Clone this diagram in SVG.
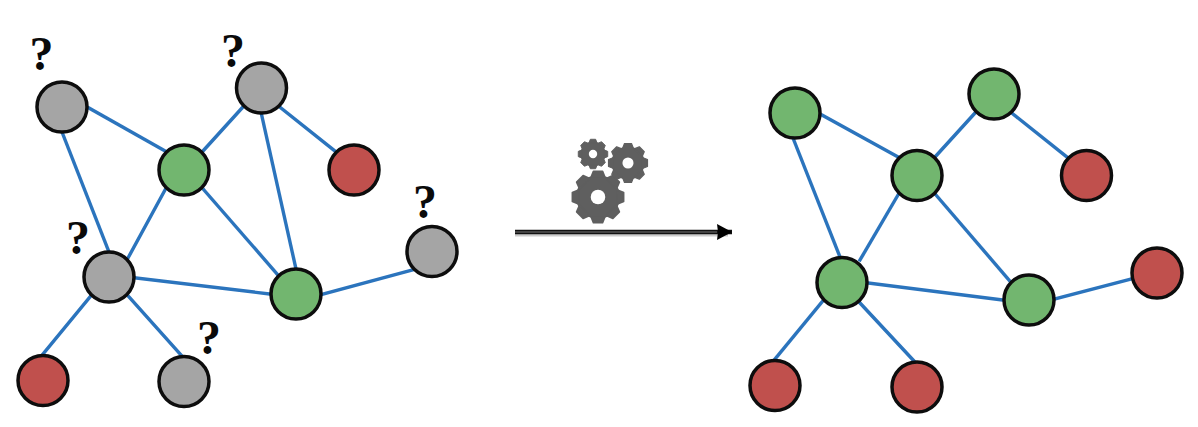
<svg xmlns="http://www.w3.org/2000/svg" width="1198" height="427" viewBox="0 0 1198 427">
<style>
.n{stroke:#0d0d0d;stroke-width:3.500}
.gy{fill:#a5a5a5}.gn{fill:#72b66f}.rd{fill:#c0504d}
#connectors line{stroke:#2b74bd;stroke-width:3.400;stroke-linecap:square}
.q{font-family:"Liberation Serif",serif;font-weight:bold;font-size:48px;fill:#0a0a0a;text-anchor:middle}
.g{fill:#5f5f5f;stroke:#5f5f5f;stroke-width:.06;stroke-linejoin:round}
</style>
<defs>
<marker id="ah" markerUnits="userSpaceOnUse" markerWidth="16" markerHeight="18" refX="15" refY="9" orient="auto"><path d="M0 1L15 9L0 17L1 9Z" fill="#000"/></marker>
<path id="t" class="g" d="M-.17-.95L.17-.95L.27-.7L-.27-.7Z"/>
<g id="gear">
<circle class="g" r="0.78"/>
<use href="#t"/>
<use href="#t" transform="rotate(45)"/>
<use href="#t" transform="rotate(90)"/>
<use href="#t" transform="rotate(135)"/>
<use href="#t" transform="rotate(180)"/>
<use href="#t" transform="rotate(225)"/>
<use href="#t" transform="rotate(270)"/>
<use href="#t" transform="rotate(315)"/>
<circle r="0.27" fill="#fff"/>
</g>
</defs>
<rect width="1198" height="427" fill="#fff"/>
<g id="connectors">
<line x1="89" y1="108" x2="165" y2="151"/>
<line x1="62" y1="132" x2="109" y2="252"/>
<line x1="242" y1="108" x2="203" y2="151"/>
<line x1="281" y1="108" x2="335" y2="151"/>
<line x1="261" y1="112" x2="296" y2="269"/>
<line x1="165" y1="190" x2="128" y2="258"/>
<line x1="204" y1="190" x2="278" y2="275"/>
<line x1="136" y1="278" x2="270" y2="294"/>
<line x1="320" y1="295" x2="412" y2="270"/>
<line x1="90" y1="297" x2="43" y2="354"/>
<line x1="129" y1="297" x2="182" y2="356"/>
<line x1="822" y1="115" x2="898" y2="157"/>
<line x1="793" y1="138" x2="840" y2="257"/>
<line x1="975" y1="113" x2="935" y2="157"/>
<line x1="1013" y1="114" x2="1067" y2="157"/>
<line x1="898" y1="195" x2="860" y2="260"/>
<line x1="936" y1="195" x2="1009" y2="280"/>
<line x1="868" y1="283" x2="1003" y2="300"/>
<line x1="1055" y1="299" x2="1131" y2="279"/>
<line x1="822" y1="302" x2="775" y2="359"/>
<line x1="860" y1="303" x2="914" y2="361"/>
</g>
<g id="arrow">
<line x1="515" y1="234" x2="728" y2="234" stroke="#ccc" stroke-width="5"/>
<line x1="515" y1="232" x2="732" y2="232" stroke="#111" stroke-width="4.500" marker-end="url(#ah)"/>
<line x1="515" y1="232" x2="717" y2="232" stroke="#777" stroke-width="1"/>
</g>
<g id="gears">
<use href="#gear" transform="translate(598,197) scale(27)"/>
<use href="#gear" transform="translate(628,163) scale(20.500)"/>
<use href="#gear" transform="translate(593,154) scale(15.500)"/>
</g>
<g id="L1"><circle class="n gy" cx="62" cy="107" r="25"/><text class="q" x="41.500" y="70">?</text></g>
<g id="L2"><circle class="n gy" cx="261.500" cy="88" r="25"/><text class="q" x="233" y="66.500">?</text></g>
<g id="L3"><circle class="n gn" cx="184" cy="170" r="25"/></g>
<g id="L4"><circle class="n rd" cx="354" cy="170" r="25"/></g>
<g id="L5"><circle class="n gy" cx="432" cy="251.500" r="25"/><text class="q" x="425" y="217.500">?</text></g>
<g id="L6"><circle class="n gy" cx="109" cy="277" r="25"/><text class="q" x="78" y="254">?</text></g>
<g id="L7"><circle class="n gn" cx="296" cy="294" r="25"/></g>
<g id="L8"><circle class="n rd" cx="43" cy="380.500" r="25"/></g>
<g id="L9"><circle class="n gy" cx="184" cy="381.500" r="25"/><text class="q" x="209" y="354">?</text></g>
<g id="R1"><circle class="n gn" cx="795" cy="113" r="25"/></g>
<g id="R2"><circle class="n gn" cx="994" cy="94" r="25"/></g>
<g id="R3"><circle class="n gn" cx="917" cy="175.500" r="25"/></g>
<g id="R4"><circle class="n rd" cx="1086.500" cy="175.500" r="25"/></g>
<g id="R5"><circle class="n rd" cx="1157" cy="273" r="25"/></g>
<g id="R6"><circle class="n gn" cx="842" cy="282.500" r="25"/></g>
<g id="R7"><circle class="n gn" cx="1029" cy="300" r="25"/></g>
<g id="R8"><circle class="n rd" cx="775" cy="385.500" r="25"/></g>
<g id="R9"><circle class="n rd" cx="917" cy="387" r="25"/></g>
</svg>
